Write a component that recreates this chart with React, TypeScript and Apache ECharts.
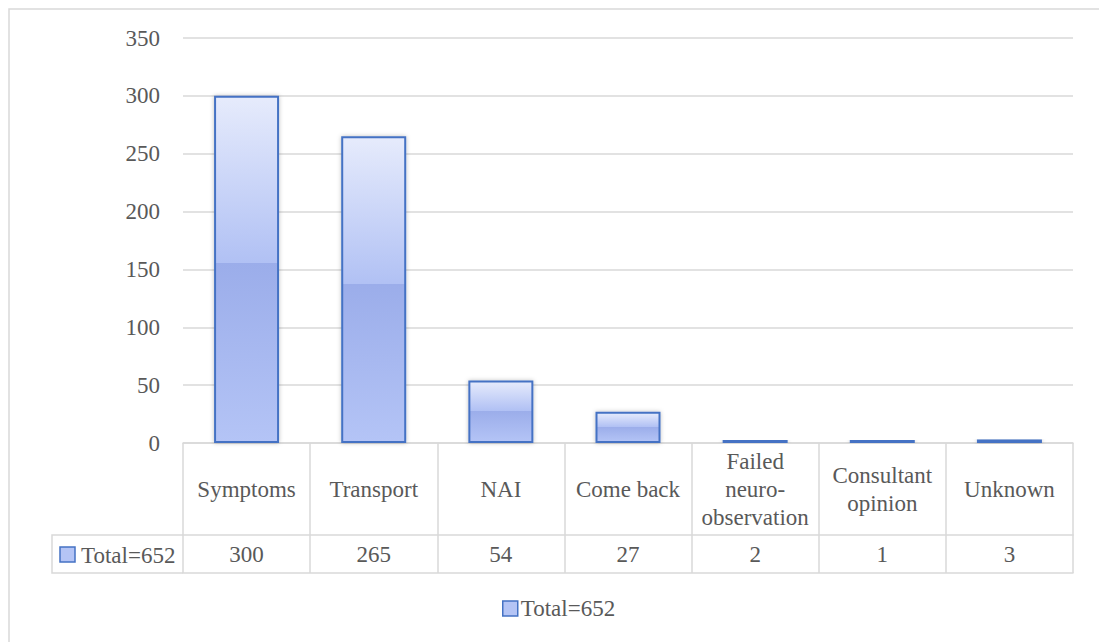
import React, { useEffect, useRef } from "react";
import * as echarts from "echarts";

// Reasons for admission, counts per category
const categories = [
  "Symptoms",
  "Transport",
  "NAI",
  "Come back",
  "Failed\nneuro-\nobservation",
  "Consultant\nopinion",
  "Unknown",
];
const totals = [300, 265, 54, 27, 2, 1, 3];
const seriesName = "Total=652";
const yTicks = { min: 0, max: 350, interval: 50 };

const FONT = "Liberation Serif";
const TEXT = "#595959";
const GRID_LINE = "#d9d9d9";
const BAR_EDGE = "#4472c4";
const SWATCH = "#b4c4f5";

export default function App() {
  const ref = useRef<HTMLDivElement>(null);

  useEffect(() => {
    if (!ref.current) return;
    const chart = echarts.init(ref.current, null, { renderer: "svg" });

    const barFill = new echarts.graphic.LinearGradient(0, 0, 0, 1, [
      { offset: 0, color: "#e6ebfc" },
      { offset: 0.48, color: "#b1c1f4" },
      { offset: 0.48, color: "#9badea" },
      { offset: 1, color: "#b4c4f6" },
    ]);

    const lineStyle = { color: GRID_LINE, width: 1.5 };
    const labelBase = {
      fontFamily: FONT,
      fontSize: 23,
      color: TEXT,
    };

    chart.setOption({
      animation: false,
      backgroundColor: "#ffffff",
      grid: { left: 183, right: 26, top: 38, bottom: 199, containLabel: false },
      legend: {
        left: 497,
        top: 592,
        icon: "rect",
        itemWidth: 15,
        itemHeight: 15,
        itemGap: 10,
        textStyle: { ...labelBase, padding: [0, 0, 0, -2] },
        data: [
          {
            name: seriesName,
            itemStyle: { color: SWATCH, borderColor: BAR_EDGE, borderWidth: 1.5 },
          },
        ],
      },
      xAxis: [
        {
          type: "category",
          data: categories,
          position: "bottom",
          axisLine: { show: true, lineStyle },
          axisTick: {
            show: true,
            length: 130,
            interval: 0,
            alignWithLabel: false,
            lineStyle,
          },
          axisLabel: {
            ...labelBase,
            interval: 0,
            margin: 46,
            verticalAlign: "middle",
            lineHeight: 28,
          },
        },
        {
          // value row of the data table
          type: "category",
          data: totals.map(String),
          position: "bottom",
          offset: 92,
          axisLine: { show: true, lineStyle },
          axisTick: { show: false },
          axisLabel: {
            ...labelBase,
            interval: 0,
            margin: 19,
            verticalAlign: "middle",
          },
        },
        {
          // bottom edge of the data table
          type: "category",
          data: categories,
          position: "bottom",
          offset: 130,
          axisLine: { show: true, lineStyle },
          axisTick: { show: false },
          axisLabel: { show: false },
        },
      ],
      yAxis: {
        type: "value",
        min: yTicks.min,
        max: yTicks.max,
        interval: yTicks.interval,
        axisLine: { show: false },
        axisTick: { show: false },
        axisLabel: { ...labelBase, margin: 23 },
        splitLine: { show: true, lineStyle },
      },
      series: [
        {
          name: seriesName,
          type: "bar",
          xAxisIndex: 0,
          data: totals,
          barWidth: 65,
          barMinHeight: 3,
          z: 5,
          itemStyle: {
            color: barFill,
            borderColor: BAR_EDGE,
            borderWidth: 2,
            shadowBlur: 4,
            shadowColor: "rgba(0,0,0,0.25)",
          },
        },
      ],
      graphic: [
        {
          // outer frame of the chart area
          type: "rect",
          shape: { x: 9, y: 9, width: 1200, height: 700 },
          style: { fill: "none", stroke: GRID_LINE, lineWidth: 1.5 },
          silent: true,
          z: -1,
        },
        {
          // legend key cell of the data table
          type: "polyline",
          shape: {
            points: [
              [183, 535],
              [52, 535],
              [52, 573],
              [183, 573],
            ],
          },
          style: { fill: "none", stroke: GRID_LINE, lineWidth: 1.5 },
          silent: true,
        },
        {
          type: "rect",
          shape: { x: 60, y: 547, width: 15, height: 15 },
          style: { fill: SWATCH, stroke: BAR_EDGE, lineWidth: 1.5 },
          silent: true,
        },
        {
          type: "text",
          x: 81,
          y: 555,
          style: {
            text: seriesName,
            fontFamily: FONT,
            fontSize: 23,
            fill: TEXT,
            verticalAlign: "middle",
            align: "left",
          },
          silent: true,
        },
      ],
    });

    return () => chart.dispose();
  }, []);

  return (
    <div
      ref={ref}
      style={{ position: "fixed", left: 0, top: 0, width: 1099, height: 642 }}
    />
  );
}
